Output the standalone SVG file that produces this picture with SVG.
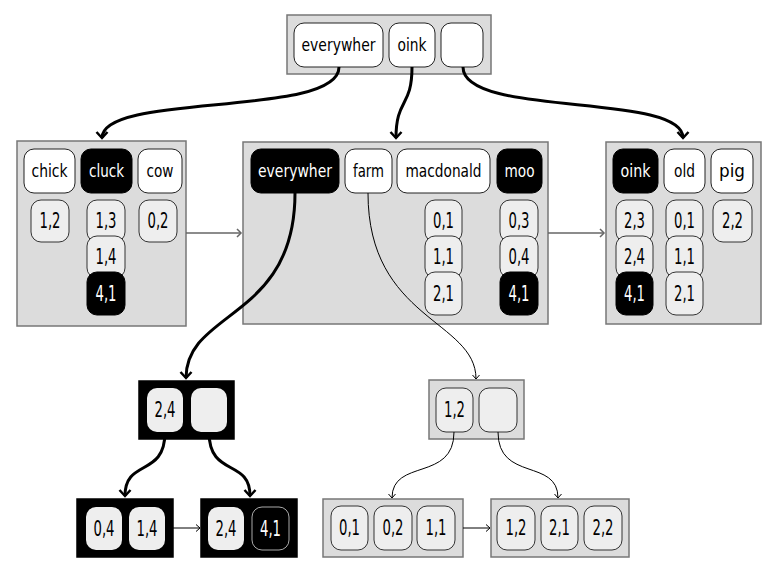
<svg xmlns="http://www.w3.org/2000/svg" width="777" height="575" viewBox="0 0 777 575">
<defs>
<style>
.node{fill:#dcdcdc;stroke:#777;stroke-width:1.5}
.bnode{fill:#000;stroke:#000;stroke-width:1.5}
.w{fill:#fff;stroke:#222;stroke-width:1}
.k{fill:#000;stroke:#000;stroke-width:1}
.kg{fill:#000;stroke:#aaa;stroke-width:1}
.n{fill:#eee;stroke:#333;stroke-width:1}
.nb{fill:#eee;stroke:none}
text{font-family:"Ubuntu Condensed","Liberation Sans Narrow","DejaVu Sans Condensed","Liberation Sans",sans-serif;font-stretch:condensed;text-anchor:middle;dominant-baseline:central}
.t{font-size:17px;fill:#000}
.tw{font-size:17px;fill:#fff}
.d{font-size:21px;fill:#000}
.dw{font-size:21px;fill:#fff}
.thick{fill:none;stroke:#000;stroke-width:3}
.thin{fill:none;stroke:#000;stroke-width:1}
.grey{fill:none;stroke:#666;stroke-width:1.5}
</style>
<marker id="ah" markerUnits="userSpaceOnUse" viewBox="-8 -7 10 14" refX="0" refY="0" markerWidth="10" markerHeight="14" orient="auto">
<path d="M-6,-5.5 L0,0 L-6,5.5" fill="none" stroke="#000" stroke-width="2.5"/>
</marker>
<marker id="at" markerUnits="userSpaceOnUse" viewBox="-6 -5 8 10" refX="0" refY="0" markerWidth="8" markerHeight="10" orient="auto">
<path d="M-4,-3.5 L0,0 L-4,3.5" fill="none" stroke="#000" stroke-width="1"/>
</marker>
<marker id="ag" markerUnits="userSpaceOnUse" viewBox="-6 -5 8 10" refX="0" refY="0" markerWidth="8" markerHeight="10" orient="auto">
<path d="M-4,-4 L0,0 L-4,4" fill="none" stroke="#666" stroke-width="1.5"/>
</marker>
</defs>
<rect width="777" height="575" fill="#fff"/>

<g id="root">
<rect class="node" x="287" y="15" width="204" height="59"/>
<rect class="w" x="294" y="23" width="89" height="44" rx="10"/>
<text class="t" x="338.5" y="45" textLength="74" lengthAdjust="spacingAndGlyphs">everywher</text>
<rect class="w" x="389" y="23" width="46" height="44" rx="10"/>
<text class="t" x="412" y="45" textLength="29" lengthAdjust="spacingAndGlyphs">oink</text>
<rect class="w" x="441" y="23" width="42" height="44" rx="10"/>
</g>

<g id="leaf-left">
<rect class="node" x="17" y="141" width="169" height="185"/>
<rect class="w" x="24" y="149" width="51" height="44" rx="10"/>
<text class="t" x="49.5" y="171" textLength="36" lengthAdjust="spacingAndGlyphs">chick</text>
<rect class="k" x="81" y="149" width="51" height="44" rx="10"/>
<text class="tw" x="106.5" y="171" textLength="35" lengthAdjust="spacingAndGlyphs">cluck</text>
<rect class="w" x="138" y="149" width="44" height="44" rx="10"/>
<text class="t" x="160" y="171" textLength="27" lengthAdjust="spacingAndGlyphs">cow</text>
<rect class="n" x="31" y="200" width="38" height="42" rx="10"/>
<text class="d" x="50" y="221" textLength="21" lengthAdjust="spacingAndGlyphs">1,2</text>
<rect class="n" x="87" y="200" width="38" height="42" rx="10"/>
<text class="d" x="106" y="221" textLength="21" lengthAdjust="spacingAndGlyphs">1,3</text>
<rect class="n" x="87" y="236" width="38" height="42" rx="10"/>
<text class="d" x="106" y="257" textLength="21" lengthAdjust="spacingAndGlyphs">1,4</text>
<rect class="k" x="87" y="272" width="38" height="43" rx="10"/>
<text class="dw" x="106" y="293.5" textLength="21" lengthAdjust="spacingAndGlyphs">4,1</text>
<rect class="n" x="139" y="200" width="38" height="42" rx="10"/>
<text class="d" x="158" y="221" textLength="21" lengthAdjust="spacingAndGlyphs">0,2</text>
</g>

<g id="leaf-middle">
<rect class="node" x="243" y="142" width="305" height="182"/>
<rect class="k" x="251" y="149" width="88" height="44" rx="10"/>
<text class="tw" x="295" y="171" textLength="74" lengthAdjust="spacingAndGlyphs">everywher</text>
<rect class="w" x="345" y="149" width="47" height="44" rx="10"/>
<text class="t" x="368.5" y="171" textLength="31" lengthAdjust="spacingAndGlyphs">farm</text>
<rect class="w" x="397" y="149" width="93" height="44" rx="10"/>
<text class="t" x="443.5" y="171" textLength="76" lengthAdjust="spacingAndGlyphs">macdonald</text>
<rect class="k" x="497" y="149" width="45" height="44" rx="10"/>
<text class="tw" x="519.5" y="171" textLength="30" lengthAdjust="spacingAndGlyphs">moo</text>
<rect class="n" x="425" y="200" width="37" height="42" rx="10"/>
<text class="d" x="443.5" y="221" textLength="21" lengthAdjust="spacingAndGlyphs">0,1</text>
<rect class="n" x="425" y="236" width="37" height="42" rx="10"/>
<text class="d" x="443.5" y="257" textLength="21" lengthAdjust="spacingAndGlyphs">1,1</text>
<rect class="n" x="425" y="272" width="37" height="43" rx="10"/>
<text class="d" x="443.5" y="293.5" textLength="21" lengthAdjust="spacingAndGlyphs">2,1</text>
<rect class="n" x="500" y="200" width="38" height="42" rx="10"/>
<text class="d" x="519" y="221" textLength="21" lengthAdjust="spacingAndGlyphs">0,3</text>
<rect class="n" x="500" y="236" width="38" height="42" rx="10"/>
<text class="d" x="519" y="257" textLength="21" lengthAdjust="spacingAndGlyphs">0,4</text>
<rect class="k" x="500" y="272" width="38" height="43" rx="10"/>
<text class="dw" x="519" y="293.5" textLength="21" lengthAdjust="spacingAndGlyphs">4,1</text>
</g>

<g id="leaf-right">
<rect class="node" x="606" y="142" width="155" height="182"/>
<rect class="k" x="613" y="149" width="45" height="44" rx="10"/>
<text class="tw" x="635.5" y="171" textLength="30" lengthAdjust="spacingAndGlyphs">oink</text>
<rect class="w" x="664" y="149" width="41" height="44" rx="10"/>
<text class="t" x="684.5" y="171" textLength="21" lengthAdjust="spacingAndGlyphs">old</text>
<rect class="w" x="711" y="149" width="42" height="44" rx="10"/>
<text class="t" x="732" y="171" textLength="26" lengthAdjust="spacingAndGlyphs">pig</text>
<rect class="n" x="616" y="200" width="37" height="42" rx="10"/>
<text class="d" x="634.5" y="221" textLength="21" lengthAdjust="spacingAndGlyphs">2,3</text>
<rect class="n" x="616" y="236" width="37" height="42" rx="10"/>
<text class="d" x="634.5" y="257" textLength="21" lengthAdjust="spacingAndGlyphs">2,4</text>
<rect class="k" x="616" y="272" width="37" height="43" rx="10"/>
<text class="dw" x="634.5" y="293.5" textLength="21" lengthAdjust="spacingAndGlyphs">4,1</text>
<rect class="n" x="666" y="200" width="37" height="42" rx="10"/>
<text class="d" x="684.5" y="221" textLength="21" lengthAdjust="spacingAndGlyphs">0,1</text>
<rect class="n" x="666" y="236" width="37" height="42" rx="10"/>
<text class="d" x="684.5" y="257" textLength="21" lengthAdjust="spacingAndGlyphs">1,1</text>
<rect class="n" x="666" y="272" width="37" height="43" rx="10"/>
<text class="d" x="684.5" y="293.5" textLength="21" lengthAdjust="spacingAndGlyphs">2,1</text>
<rect class="n" x="713" y="200" width="39" height="42" rx="10"/>
<text class="d" x="732.5" y="221" textLength="21" lengthAdjust="spacingAndGlyphs">2,2</text>
</g>

<g id="sub-everywher">
<rect class="bnode" x="139" y="381" width="95" height="58"/>
<rect class="nb" x="147" y="388" width="36" height="44" rx="10"/>
<text class="d" x="165" y="410" textLength="21" lengthAdjust="spacingAndGlyphs">2,4</text>
<rect class="nb" x="191" y="388" width="36" height="44" rx="10"/>
</g>

<g id="sub-everywher-leaf1">
<rect class="bnode" x="77" y="499" width="96" height="58"/>
<rect class="nb" x="86" y="507" width="36" height="43" rx="10"/>
<text class="d" x="104" y="528.5" textLength="21" lengthAdjust="spacingAndGlyphs">0,4</text>
<rect class="nb" x="129" y="507" width="36" height="43" rx="10"/>
<text class="d" x="147" y="528.5" textLength="21" lengthAdjust="spacingAndGlyphs">1,4</text>
</g>

<g id="sub-everywher-leaf2">
<rect class="bnode" x="201" y="499" width="96" height="58"/>
<rect class="nb" x="208" y="507" width="36" height="43" rx="10"/>
<text class="d" x="226" y="528.5" textLength="21" lengthAdjust="spacingAndGlyphs">2,4</text>
<rect class="kg" x="252" y="507" width="37" height="43" rx="10"/>
<text class="dw" x="270.5" y="528.5" textLength="21" lengthAdjust="spacingAndGlyphs">4,1</text>
</g>

<g id="sub-farm">
<rect class="node" x="429" y="380" width="95" height="59"/>
<rect class="n" x="436" y="388" width="37" height="44" rx="10"/>
<text class="d" x="454.5" y="410" textLength="21" lengthAdjust="spacingAndGlyphs">1,2</text>
<rect class="n" x="479" y="388" width="38" height="44" rx="10"/>
</g>

<g id="sub-farm-leaf1">
<rect class="node" x="323" y="499" width="140" height="58"/>
<rect class="n" x="331" y="506" width="37" height="44" rx="10"/>
<text class="d" x="349.5" y="528" textLength="21" lengthAdjust="spacingAndGlyphs">0,1</text>
<rect class="n" x="374" y="506" width="38" height="44" rx="10"/>
<text class="d" x="393" y="528" textLength="21" lengthAdjust="spacingAndGlyphs">0,2</text>
<rect class="n" x="417" y="506" width="38" height="44" rx="10"/>
<text class="d" x="436" y="528" textLength="21" lengthAdjust="spacingAndGlyphs">1,1</text>
</g>

<g id="sub-farm-leaf2">
<rect class="node" x="491" y="499" width="138" height="58"/>
<rect class="n" x="497" y="506" width="38" height="44" rx="10"/>
<text class="d" x="516" y="528" textLength="21" lengthAdjust="spacingAndGlyphs">1,2</text>
<rect class="n" x="541" y="506" width="37" height="44" rx="10"/>
<text class="d" x="559.5" y="528" textLength="21" lengthAdjust="spacingAndGlyphs">2,1</text>
<rect class="n" x="584" y="506" width="38" height="44" rx="10"/>
<text class="d" x="603" y="528" textLength="21" lengthAdjust="spacingAndGlyphs">2,2</text>
</g>

<g id="connectors">
<path class="thick" d="M339,67 C339,118 102,92 102,138" marker-end="url(#ah)"/>
<path class="thick" d="M412,67 C412,108 396,98 396,138" marker-end="url(#ah)"/>
<path class="thick" d="M463,67 C463,118 683,92 683,138" marker-end="url(#ah)"/>
<path class="grey" d="M186,233 L241,233" marker-end="url(#ag)"/>
<path class="grey" d="M548,233 L604,233" marker-end="url(#ag)"/>
<path class="thick" d="M295,193 C295,320 186,310 186,378" marker-end="url(#ah)"/>
<path class="thin" d="M368,193 C368,320 476,320 476,379" marker-end="url(#at)"/>
<path class="thick" d="M165,432 C165,478 125,458 125,496" marker-end="url(#ah)"/>
<path class="thick" d="M209,432 C209,478 250,458 250,496" marker-end="url(#ah)"/>
<path class="thin" d="M173,528 L200,528" marker-end="url(#at)"/>
<path class="thin" d="M454,432 C454,482 392,458 392,498" marker-end="url(#at)"/>
<path class="thin" d="M498,432 C498,482 558,458 558,498" marker-end="url(#at)"/>
<path class="thin" d="M463,528 L490,528" marker-end="url(#at)"/>
</g>
</svg>
